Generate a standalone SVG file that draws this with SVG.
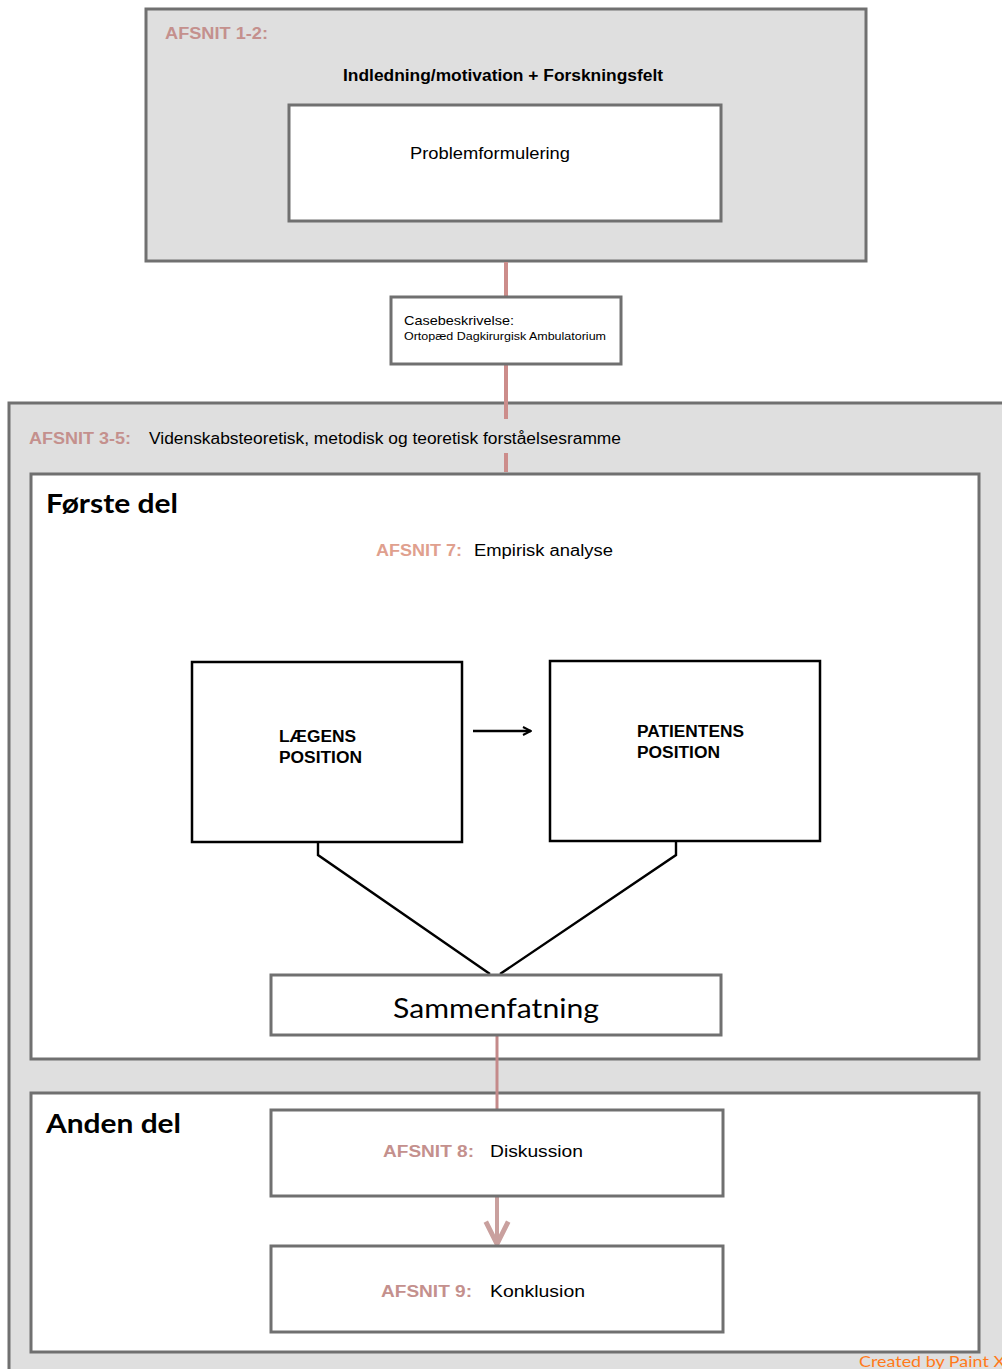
<svg xmlns="http://www.w3.org/2000/svg" width="1002" height="1369" viewBox="0 0 1002 1369">
<defs>
<style>
.gbox{fill:#dfdfdf;stroke:#707070;stroke-width:3}
.wbox{fill:#ffffff;stroke:#707070;stroke-width:3}
.kbox{fill:#ffffff;stroke:#000000;stroke-width:2.5}
.t{font-family:"Liberation Sans",Arial,sans-serif;fill:#000}
.rose{font-family:"Liberation Sans",Arial,sans-serif;fill:#c4908d;font-weight:bold}
.cal{font-family:Lato,"Open Sans",sans-serif;fill:#000}
.red{stroke:#cc8d8b;stroke-width:4;fill:none}
.blk{stroke:#000;stroke-width:2.4;fill:none}
</style>
<marker id="ah" viewBox="0 0 10 10" refX="9" refY="5" markerWidth="10" markerHeight="10" orient="auto" markerUnits="userSpaceOnUse">
<path d="M1,1 L9,5 L1,9" fill="none" stroke="#000" stroke-width="2"/>
</marker>
<marker id="rah" viewBox="0 0 20 20" refX="18" refY="10" markerWidth="28" markerHeight="28" orient="auto" markerUnits="userSpaceOnUse">
<path d="M2,2 L18,10 L2,18" fill="none" stroke="#c9a09e" stroke-width="3.5"/>
</marker>
</defs>
<rect x="0" y="0" width="1002" height="1369" fill="#ffffff"/>

<g id="afsnit12">
<rect class="gbox" x="146" y="9" width="720" height="252"/>
<text class="rose" x="165" y="39" font-size="16" textLength="103" lengthAdjust="spacingAndGlyphs">AFSNIT 1-2:</text>
<text class="t" x="343" y="81" font-size="16" font-weight="bold" textLength="320" lengthAdjust="spacingAndGlyphs">Indledning/motivation + Forskningsfelt</text>
</g>
<g id="problemformulering">
<rect class="wbox" x="289" y="105" width="432" height="116"/>
<text class="t" x="410" y="159" font-size="17" textLength="160" lengthAdjust="spacingAndGlyphs">Problemformulering</text>
</g>

<g id="afsnit35">
<rect class="gbox" x="9" y="403" width="1000" height="980"/>
<text class="rose" x="29" y="444" font-size="16" textLength="102" lengthAdjust="spacingAndGlyphs">AFSNIT 3-5:</text>
<text class="t" x="149" y="444" font-size="16" textLength="472" lengthAdjust="spacingAndGlyphs">Videnskabsteoretisk, metodisk og teoretisk forståelsesramme</text>
</g>

<g id="forste-del">
<rect class="wbox" x="31" y="474" width="948" height="585"/>
<text class="cal" x="46" y="513" font-size="27" font-weight="bold" textLength="132" lengthAdjust="spacingAndGlyphs">Første del</text>
<text class="rose" x="376" y="556" font-size="16" textLength="86" lengthAdjust="spacingAndGlyphs" style="fill:#e0a08e">AFSNIT 7:</text>
<text class="t" x="474" y="556" font-size="16" textLength="139" lengthAdjust="spacingAndGlyphs">Empirisk analyse</text>
</g>

<g id="anden-del">
<rect class="wbox" x="31" y="1093" width="948" height="259"/>
<text class="cal" x="46" y="1133" font-size="27" font-weight="bold" textLength="135" lengthAdjust="spacingAndGlyphs">Anden del</text>
</g>

<g id="connectors">
<line class="red" x1="506" y1="262" x2="506" y2="297"/>
<line class="red" x1="506" y1="364" x2="506" y2="419"/>
<line class="red" x1="506" y1="453" x2="506" y2="472"/>
<line class="blk" x1="473" y1="731" x2="531" y2="731" marker-end="url(#ah)"/>
<polyline class="blk" points="318,842 318,855 490,974"/>
<polyline class="blk" points="676,841 676,855 500,974"/>
<line x1="497" y1="1036" x2="497" y2="1110" stroke="#c48a8a" stroke-width="3"/>
<line x1="497" y1="1197" x2="497" y2="1244" stroke="#c9a09e" stroke-width="4" marker-end="url(#rah)"/>
</g>

<g id="casebeskrivelse">
<rect class="wbox" x="391" y="297" width="230" height="67"/>
<text class="t" x="404" y="325" font-size="13" textLength="110" lengthAdjust="spacingAndGlyphs">Casebeskrivelse:</text>
<text class="t" x="404" y="340" font-size="11.5" textLength="202" lengthAdjust="spacingAndGlyphs">Ortopæd Dagkirurgisk Ambulatorium</text>
</g>

<g id="laegens-position">
<rect class="kbox" x="192" y="662" width="270" height="180"/>
<text class="t" x="279" y="742" font-size="16" font-weight="bold" textLength="77" lengthAdjust="spacingAndGlyphs">LÆGENS</text>
<text class="t" x="279" y="763" font-size="16" font-weight="bold" textLength="83" lengthAdjust="spacingAndGlyphs">POSITION</text>
</g>

<g id="patientens-position">
<rect class="kbox" x="550" y="661" width="270" height="180"/>
<text class="t" x="637" y="737" font-size="16" font-weight="bold" textLength="107" lengthAdjust="spacingAndGlyphs">PATIENTENS</text>
<text class="t" x="637" y="758" font-size="16" font-weight="bold" textLength="83" lengthAdjust="spacingAndGlyphs">POSITION</text>
</g>

<g id="sammenfatning">
<rect class="wbox" x="271" y="975" width="450" height="60"/>
<text class="cal" x="393" y="1018" font-size="27" textLength="206" lengthAdjust="spacingAndGlyphs">Sammenfatning</text>
</g>

<g id="diskussion">
<rect class="wbox" x="271" y="1110" width="452" height="86"/>
<text class="rose" x="383" y="1157" font-size="16" textLength="91" lengthAdjust="spacingAndGlyphs">AFSNIT 8:</text>
<text class="t" x="490" y="1157" font-size="16" textLength="93" lengthAdjust="spacingAndGlyphs">Diskussion</text>
</g>

<g id="konklusion">
<rect class="wbox" x="271" y="1246" width="452" height="86"/>
<text class="rose" x="381" y="1297" font-size="16" textLength="91" lengthAdjust="spacingAndGlyphs">AFSNIT 9:</text>
<text class="t" x="490" y="1297" font-size="16" textLength="95" lengthAdjust="spacingAndGlyphs">Konklusion</text>
</g>

<text x="859" y="1367" font-family="Lato,'Open Sans',sans-serif" font-size="16" fill="#ff7a1a" textLength="146" lengthAdjust="spacingAndGlyphs">Created by Paint X</text>
</svg>
